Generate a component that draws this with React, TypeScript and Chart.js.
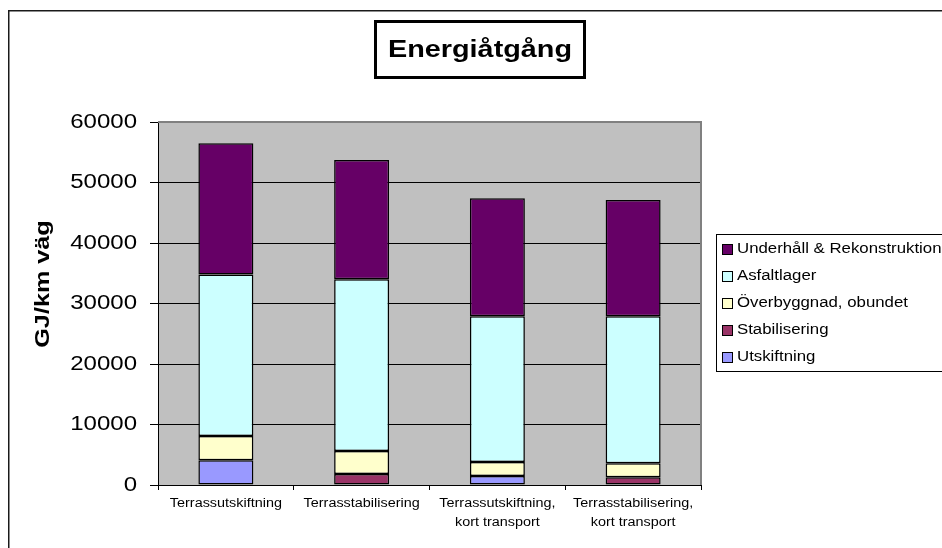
import React, { useEffect, useRef } from 'react';
import { Chart, registerables } from 'chart.js';

Chart.register(...registerables);

// Categories (multi-line labels as arrays)
const categories: string[][] = [
  ['Terrassutskiftning'],
  ['Terrasstabilisering'],
  ['Terrassutskiftning,', 'kort transport'],
  ['Terrasstabilisering,', 'kort transport'],
];

// Energy use per layer, GJ per km road (stacked bottom to top)
const utskiftning = [4100, 0, 1500, 0];
const stabilisering = [0, 1800, 0, 1300];
const overbyggnad = [4000, 3800, 2300, 2300];
const asfaltlager = [26700, 28400, 24100, 24300];
const underhall = [21700, 19700, 19500, 19200];

const seriesNames = [
  'Utskiftning',
  'Stabilisering',
  'Överbyggnad, obundet',
  'Asfaltlager',
  'Underhåll & Rekonstruktion',
];
const seriesColors = ['#9999FF', '#993366', '#FFFFCC', '#CCFFFF', '#660066'];

const yTickValues = [0, 10000, 20000, 30000, 40000, 50000, 60000];
const chartTitle = 'Energiåtgång';
const yAxisTitle = 'GJ/km väg';

const FONT = '"Liberation Sans", Arial, sans-serif';
const TEXT_STRETCH = 1.2;

// Widen every text run drawn on the chart's context horizontally.
function widenText(ctx: any) {
  if (ctx.__wideText) return;
  const fill = ctx.fillText.bind(ctx);
  ctx.fillText = (text: string, x: number, y: number, maxWidth?: number) => {
    ctx.save();
    ctx.translate(x, y);
    ctx.scale(TEXT_STRETCH, 1);
    if (maxWidth === undefined || maxWidth === null) fill(text, 0, 0);
    else fill(text, 0, 0, maxWidth / TEXT_STRETCH);
    ctx.restore();
  };
  ctx.__wideText = true;
}

const decorations = {
  id: 'decorations',
  beforeInit(chart: any) {
    widenText(chart.ctx);
  },
  beforeDraw(chart: any) {
    const { ctx, chartArea: a } = chart;
    ctx.save();
    // plot area background
    ctx.fillStyle = '#C0C0C0';
    ctx.fillRect(a.left, a.top, a.right - a.left, a.bottom - a.top);
    // outer chart frame
    ctx.strokeStyle = '#1a1a1a';
    ctx.lineWidth = 1.5;
    ctx.strokeRect(8.75, 10.75, 2000, 2000);
    ctx.restore();
  },
  beforeDatasetsDraw(chart: any) {
    const { ctx, chartArea: a } = chart;
    ctx.save();
    ctx.strokeStyle = '#808080';
    ctx.lineWidth = 2;
    ctx.beginPath();
    ctx.moveTo(a.left, a.top);
    ctx.lineTo(a.right, a.top);
    ctx.lineTo(a.right, a.bottom);
    ctx.stroke();
    ctx.restore();
  },
  afterDraw(chart: any) {
    const { ctx } = chart;
    ctx.save();

    // boxed chart title
    ctx.strokeStyle = '#000';
    ctx.lineWidth = 3;
    ctx.strokeRect(375.5, 21.5, 209, 56);
    ctx.fillStyle = '#000';
    ctx.font = `bold 24px ${FONT}`;
    ctx.textAlign = 'center';
    ctx.textBaseline = 'middle';
    ctx.fillText(chartTitle, 480, 50);

    // vertical axis title
    ctx.save();
    ctx.translate(43, 284);
    ctx.rotate(-Math.PI / 2);
    ctx.font = `bold 21px ${FONT}`;
    ctx.textAlign = 'center';
    ctx.textBaseline = 'middle';
    ctx.fillText(yAxisTitle, 0, 0);
    ctx.restore();

    // legend box, series listed top of stack first
    ctx.lineWidth = 1;
    ctx.strokeStyle = '#000';
    ctx.strokeRect(716.5, 234.5, 400, 137);
    ctx.font = `14px ${FONT}`;
    ctx.textAlign = 'left';
    ctx.textBaseline = 'middle';
    const sets = chart.data.datasets.slice().reverse();
    sets.forEach((ds: any, i: number) => {
      const cy = 249 + i * 27;
      ctx.fillStyle = ds.backgroundColor;
      ctx.fillRect(722, cy - 5, 11, 11);
      ctx.strokeRect(722.5, cy - 4.5, 10, 10);
      ctx.fillStyle = '#000';
      ctx.fillText(ds.label, 737, cy);
    });

    ctx.restore();
  },
};

const seriesValues = [utskiftning, stabilisering, overbyggnad, asfaltlager, underhall];

export default function App() {
  const ref = useRef<HTMLCanvasElement>(null);

  useEffect(() => {
    const canvas = ref.current;
    if (!canvas) return;
    const chart = new Chart(canvas, {
      type: 'bar',
      data: {
        labels: categories,
        datasets: seriesValues.map((values, i) => ({
          label: seriesNames[i],
          data: values,
          backgroundColor: seriesColors[i],
          borderColor: '#000',
          borderWidth: 1.5,
          borderSkipped: false,
          barPercentage: 0.405,
          categoryPercentage: 1,
        })),
      },
      options: {
        animation: false,
        responsive: false,
        devicePixelRatio: 1,
        layout: { padding: { left: 58, right: 241, top: 122, bottom: 13 } },
        plugins: {
          legend: { display: false },
          title: { display: false },
          tooltip: { enabled: false },
        },
        scales: {
          x: {
            stacked: true,
            afterFit: (s: any) => {
              s.height = 50;
            },
            grid: {
              display: true,
              drawOnChartArea: false,
              drawTicks: true,
              tickLength: 5,
              color: '#000',
              offset: true,
            },
            border: { display: true, color: '#000', width: 1 },
            ticks: {
              color: '#000',
              font: { family: FONT, size: 12, lineHeight: 1.6 },
              padding: 4,
              maxRotation: 0,
              minRotation: 0,
              autoSkip: false,
            },
          },
          y: {
            stacked: true,
            min: 0,
            max: 60000,
            afterFit: (s: any) => {
              s.width = 100;
            },
            afterBuildTicks: (s: any) => {
              s.ticks = yTickValues.map((v) => ({ value: v }));
            },
            grid: {
              color: (c: any) => (c.tick && c.tick.value === 60000 ? 'rgba(0,0,0,0)' : '#000'),
              tickColor: '#000',
              lineWidth: 1,
              drawTicks: true,
              tickLength: 8,
            },
            border: { display: true, color: '#000', width: 1 },
            ticks: {
              color: '#000',
              font: { family: FONT, size: 20 },
              padding: 13,
              callback: (v: any) => String(v),
            },
          },
        },
      },
      plugins: [decorations],
    } as any);
    return () => chart.destroy();
  }, []);

  return (
    <div
      style={{
        position: 'absolute',
        left: 0,
        top: 0,
        width: 942,
        height: 548,
        overflow: 'hidden',
        background: '#fff',
      }}
    >
      <canvas ref={ref} width={942} height={548} style={{ display: 'block', width: 942, height: 548 }} />
    </div>
  );
}
